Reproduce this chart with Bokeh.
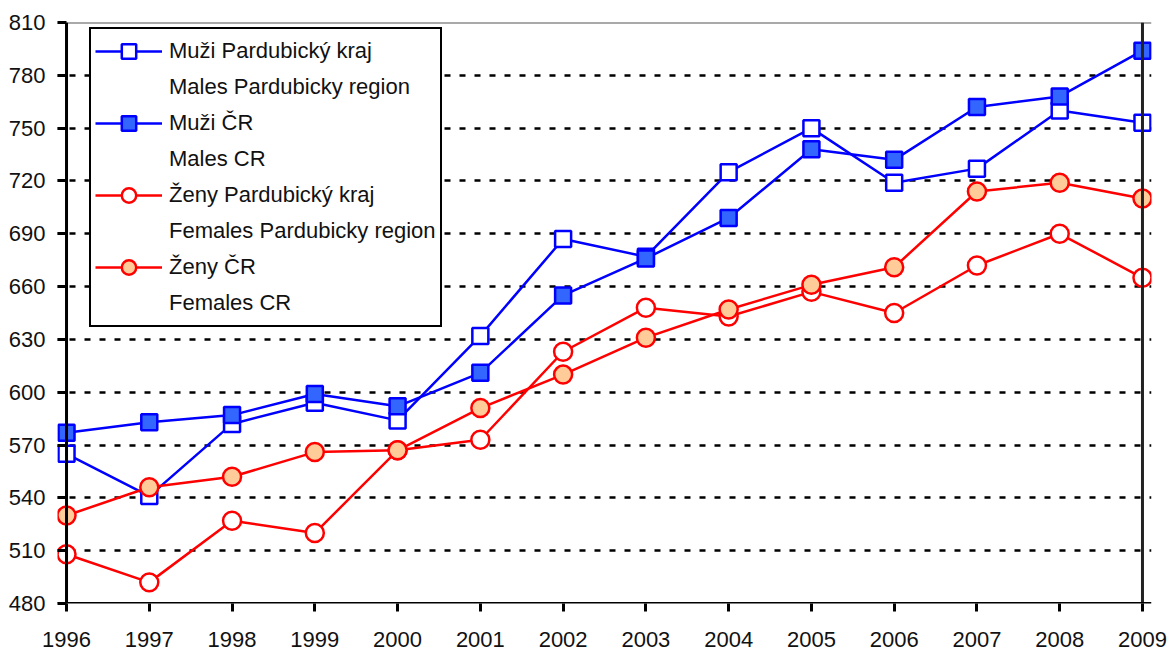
from bokeh.plotting import figure
from bokeh.models import Range1d, FixedTicker, Span, Legend, LegendItem
from bokeh.embed import file_html
from bokeh.resources import INLINE

years = list(range(1996, 2010))
males_pk = [565, 541, 582, 594, 584, 632, 687, 677, 725, 750, 719, 727, 760, 753]
males_cr = [577, 583, 587, 599, 592, 611, 655, 676, 699, 738, 732, 762, 768, 794]
females_pk = [508, 492, 527, 520, 567, 573, 623, 648, 643, 657, 645, 672, 690, 665]
females_cr = [530, 546, 552, 566, 567, 591, 610, 631, 647, 661, 671, 714, 719, 710]
y_ticks = [480, 510, 540, 570, 600, 630, 660, 690, 720, 750, 780, 810]

lab_males_pk = ["Muži Pardubický kraj", "Males Pardubicky region"]
lab_males_cr = ["Muži ČR", "Males CR"]
lab_females_pk = ["Ženy Pardubický kraj", "Females Pardubicky region"]
lab_females_cr = ["Ženy ČR", "Females CR"]

FONT = "Liberation Sans"
BLUE = "#0000FF"
RED = "#FF0000"

pad = 0.109
p = figure(width=1167, height=654, output_backend="svg", toolbar_location=None,
           x_range=Range1d(years[0] - pad, years[-1] + pad),
           y_range=Range1d(y_ticks[0], y_ticks[-1]),
           min_border_left=57, min_border_right=16, min_border_top=22, min_border_bottom=51)
p.outline_line_color = None
p.background_fill_color = "white"

p.xgrid.grid_line_color = None
p.ygrid.grid_line_color = "black"
p.ygrid.grid_line_width = 2.5
p.ygrid.grid_line_dash = "6 9"
p.ygrid.grid_line_dash_offset = 3

p.yaxis.ticker = FixedTicker(ticks=y_ticks)
p.xaxis.ticker = FixedTicker(ticks=years)
for ax in (p.xaxis, p.yaxis):
    ax.axis_line_color = None
    ax.major_tick_line_color = "black"
    ax.major_tick_line_width = 3
    ax.minor_tick_line_color = None
    ax.major_label_text_font = FONT
    ax.major_label_text_font_size = "22px"
    ax.major_label_text_color = "#111111"
p.yaxis.major_tick_in = 9
p.yaxis.major_tick_out = 0
p.yaxis.major_label_standoff = 12
p.xaxis.major_tick_in = 0
p.xaxis.major_tick_out = 8
p.xaxis.major_label_standoff = 20

# frame lines
p.add_layout(Span(location=y_ticks[-1], dimension="width", line_color="#555555", line_width=2, level="underlay"))
p.add_layout(Span(location=years[0], dimension="height", line_color="black", line_width=3))
p.add_layout(Span(location=years[-1], dimension="height", line_color="#222222", line_width=3))
p.add_layout(Span(location=y_ticks[0], dimension="width", line_color="black", line_width=3))

r_mpk_l = p.line(years, males_pk, line_color=BLUE, line_width=2.5)
r_fpk_l = p.line(years, females_pk, line_color=RED, line_width=2.5)
r_mcr_l = p.line(years, males_cr, line_color=BLUE, line_width=2.5)
r_fcr_l = p.line(years, females_cr, line_color=RED, line_width=2.5)

r_mpk_m = p.scatter(years, males_pk, marker="square", size=16, fill_color="white", line_color=BLUE, line_width=2.5)
r_fpk_m = p.scatter(years, females_pk, marker="circle", size=18, fill_color="white", line_color=RED, line_width=2.5)
r_mcr_m = p.scatter(years, males_cr, marker="square", size=16, fill_color="#3366FF", line_color=BLUE, line_width=2.5)
r_fcr_m = p.scatter(years, females_cr, marker="circle", size=18, fill_color="#FFCC99", line_color=RED, line_width=2.5)

# invisible renderer used for the second text line of each legend entry
blank = p.line(x=[], y=[], line_alpha=0)

items = []
for lab, rs in [(lab_males_pk, [r_mpk_l, r_mpk_m]), (lab_males_cr, [r_mcr_l, r_mcr_m]),
                (lab_females_pk, [r_fpk_l, r_fpk_m]), (lab_females_cr, [r_fcr_l, r_fcr_m])]:
    items.append(LegendItem(label=lab[0], renderers=rs))
    items.append(LegendItem(label=lab[1], renderers=[blank]))

legend = Legend(items=items, location=(32, 276))
legend.label_text_font = FONT
legend.label_text_font_size = "22px"
legend.label_text_color = "#111111"
legend.glyph_width = 67
legend.glyph_height = 36
legend.label_standoff = 7
legend.padding = 4
legend.spacing = 0
legend.margin = 0
legend.border_line_color = "black"
legend.border_line_alpha = 1
legend.border_line_width = 2.5
legend.background_fill_color = "white"
legend.background_fill_alpha = 1
p.add_layout(legend, "center")

open("out.html", "w").write(file_html(p, INLINE))
